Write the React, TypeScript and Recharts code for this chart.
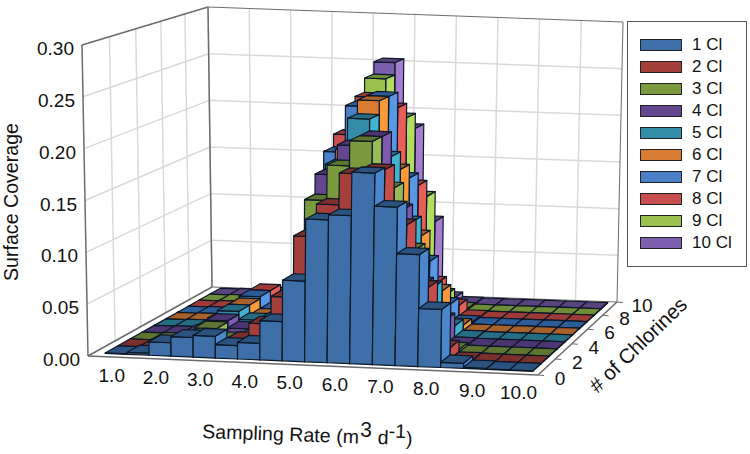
import { Scatter, ScatterChart, XAxis, YAxis } from "recharts";

const WIDTH = 750;
const HEIGHT = 454;

const rates = ["1.0", "1.5", "2.0", "2.5", "3.0", "3.5", "4.0", "4.5", "5.0", "5.5", "6.0", "6.5", "7.0", "7.5", "8.0", "8.5", "9.0", "9.5", "10.0"];
const rateTicks = ["1.0", "2.0", "3.0", "4.0", "5.0", "6.0", "7.0", "8.0", "9.0", "10.0"];
const chlorineTicks = [0, 2, 4, 6, 8, 10];
const coverageTicks = [0, 0.05, 0.1, 0.15, 0.2, 0.25, 0.3];
const seriesNames = ["1 Cl", "2 Cl", "3 Cl", "4 Cl", "5 Cl", "6 Cl", "7 Cl", "8 Cl", "9 Cl", "10 Cl"];

const cl1 = [0.0005, 0.002, 0.013, 0.019, 0.021, 0.013, 0.016, 0.038, 0.078, 0.138, 0.143, 0.185, 0.153, 0.108, 0.056, 0.005, 0.001, 0.0005, 0.0005];
const cl2 = [0.0005, 0.001, 0.004, 0.012, 0.006, 0.012, 0.028, 0.055, 0.115, 0.147, 0.178, 0.183, 0.13, 0.07, 0.012, 0.001, 0.0005, 0.0005, 0.0005];
const cl3 = [0.0005, 0.001, 0.003, 0.014, 0.004, 0.008, 0.02, 0.05, 0.145, 0.18, 0.205, 0.16, 0.1, 0.04, 0.003, 0.0005, 0.0005, 0.0005, 0.0005];
const cl4 = [0.0005, 0.001, 0.003, 0.015, 0.008, 0.007, 0.02, 0.06, 0.165, 0.195, 0.205, 0.133, 0.06, 0.025, 0.001, 0.0005, 0.0005, 0.0005, 0.0005];
const cl5 = [0.0005, 0.001, 0.002, 0.018, 0.01, 0.012, 0.022, 0.07, 0.17, 0.217, 0.18, 0.115, 0.05, 0.012, 0.001, 0.0005, 0.0005, 0.0005, 0.0005];
const cl6 = [0.0005, 0.001, 0.003, 0.018, 0.008, 0.01, 0.025, 0.07, 0.18, 0.231, 0.162, 0.095, 0.04, 0.006, 0.0005, 0.0005, 0.0005, 0.0005, 0.0005];
const cl7 = [0.0005, 0.001, 0.003, 0.02, 0.008, 0.012, 0.04, 0.172, 0.22, 0.231, 0.148, 0.063, 0.02, 0.002, 0.0005, 0.0005, 0.0005, 0.0005, 0.0005];
const cl8 = [0.0005, 0.001, 0.002, 0.02, 0.006, 0.01, 0.05, 0.185, 0.225, 0.215, 0.135, 0.035, 0.012, 0.001, 0.0005, 0.0005, 0.0005, 0.0005, 0.0005];
const cl9 = [0.0005, 0.001, 0.002, 0.006, 0.004, 0.008, 0.04, 0.16, 0.24, 0.2, 0.118, 0.016, 0.002, 0.0005, 0.0005, 0.0005, 0.0005, 0.0005, 0.0005];
const cl10 = [0.0005, 0.001, 0.002, 0.004, 0.003, 0.006, 0.03, 0.14, 0.253, 0.184, 0.086, 0.006, 0.001, 0.0005, 0.0005, 0.0005, 0.0005, 0.0005, 0.0005];
const coverage = [cl1, cl2, cl3, cl4, cl5, cl6, cl7, cl8, cl9, cl10];

const frontColors = ["#3e6fa8", "#a53f3c", "#7b9a3e", "#64468e", "#338ca8", "#d87c33", "#4a80c8", "#c94f4f", "#9ac14f", "#7d5fb0"];
const sideColors = ["#4c86cc", "#c64d49", "#97bb58", "#7f59b0", "#43b2cf", "#f99a3a", "#5797e4", "#e85f5a", "#b4dc5f", "#a57ed0"];
const topColors = ["#2c527f", "#7b3029", "#5e7530", "#4c3570", "#266c82", "#a8612a", "#2d5d99", "#a03a38", "#6f8c36", "#5a4480"];

// camera: where the box corners land on the page (front-left, front-right, back-right, back-left)
const floorCorners = [[88, 356], [538, 375], [617, 302], [212, 287]];
const ceilCorners = [[82, 45], [544, 62], [623, 22], [208, 7]];
const Z_MAX = 0.3;
const BAR_S = [0.027, 0.981];
const BAR_T = [0.04, 0.98];

function homography(c: number[][]) {
  const [[x0, y0], [x1, y1], [x2, y2], [x3, y3]] = c;
  const dx1 = x1 - x2, dx2 = x3 - x2, sx = x0 - x1 + x2 - x3;
  const dy1 = y1 - y2, dy2 = y3 - y2, sy = y0 - y1 + y2 - y3;
  const det = dx1 * dy2 - dx2 * dy1;
  const g = (sx * dy2 - dx2 * sy) / det;
  const h = (dx1 * sy - sx * dy1) / det;
  return (s: number, t: number) => {
    const w = g * s + h * t + 1;
    return [
      ((x1 - x0 + g * x1) * s + (x3 - x0 + h * x3) * t + x0) / w,
      ((y1 - y0 + g * y1) * s + (y3 - y0 + h * y3) * t + y0) / w,
    ];
  };
}
const floorAt = homography(floorCorners);
const ceilAt = homography(ceilCorners);

function project(s: number, t: number, z: number) {
  const a = floorAt(s, t);
  const b = ceilAt(s, t);
  const k = z / Z_MAX;
  return [a[0] + (b[0] - a[0]) * k, a[1] + (b[1] - a[1]) * k];
}
const colS = (u: number) => BAR_S[0] + ((BAR_S[1] - BAR_S[0]) * u) / rates.length;
const rowT = (v: number) => BAR_T[0] + ((BAR_T[1] - BAR_T[0]) * v) / seriesNames.length;
const pts = (list: number[][]) => list.map((p) => p.join(",")).join(" ");

function Prism(props: any) {
  const { cx, cy, payload } = props;
  const { col, row, value } = payload;
  const s0 = colS(col), s1 = colS(col + 1), t0 = rowT(row), t1 = rowT(row + 1);
  const anchor = project(s0, t0, 0);
  const at = (s: number, t: number, z: number) => {
    const p = project(s, t, z);
    return [p[0] - anchor[0] + cx, p[1] - anchor[1] + cy];
  };
  const stroke = { stroke: "#0c1725", strokeWidth: 1.2, strokeLinejoin: "round" as const };
  return (
    <g>
      <polygon points={pts([at(s1, t0, 0), at(s1, t1, 0), at(s1, t1, value), at(s1, t0, value)])} fill={sideColors[row]} {...stroke} />
      <polygon points={pts([at(s0, t0, 0), at(s1, t0, 0), at(s1, t0, value), at(s0, t0, value)])} fill={frontColors[row]} {...stroke} />
      <polygon points={pts([at(s0, t0, value), at(s1, t0, value), at(s1, t1, value), at(s0, t1, value)])} fill={topColors[row]} {...stroke} />
    </g>
  );
}

function barRow(row: number) {
  return coverage[row].map((value, col) => {
    const p = project(colS(col), rowT(row), 0);
    return { px: p[0], py: p[1], col, row, value };
  });
}

// walls, floor and grid lines as one list of segments
function seg(a: number[], b: number[], color: string, width: number) {
  return { px: a[0], py: a[1], dx: b[0] - a[0], dy: b[1] - a[1], color, width };
}
const GRID = "#d9d9d9";
const EDGE = "#6b6b6b";
const gridSegments: any[] = [];
for (let i = 1; i < rateTicks.length; i++) {
  gridSegments.push(seg(project(i / 10, 1, 0), project(i / 10, 1, Z_MAX), GRID, 1.5));
}
for (let i = 1; i < chlorineTicks.length; i++) {
  gridSegments.push(seg(project(0, i / 5, 0), project(0, i / 5, Z_MAX), GRID, 1.5));
}
coverageTicks.slice(1, -1).forEach((z) => {
  gridSegments.push(seg(project(0, 0, z), project(0, 1, z), GRID, 1.5));
  gridSegments.push(seg(project(0, 1, z), project(1, 1, z), GRID, 1.5));
});
gridSegments.push(seg(project(0, 0, 0), project(0, 0, Z_MAX), EDGE, 1.5));
gridSegments.push(seg(project(0, 1, 0), project(0, 1, Z_MAX), EDGE, 1.5));
gridSegments.push(seg(project(0, 0, Z_MAX), project(0, 1, Z_MAX), EDGE, 1.5));
gridSegments.push(seg(project(0, 1, Z_MAX), project(1, 1, Z_MAX), EDGE, 1));
gridSegments.push(seg(project(1, 1, 0), project(1, 1, Z_MAX), EDGE, 1));
gridSegments.push(seg(project(0, 0, 0), project(1, 0, 0), EDGE, 1.5));
gridSegments.push(seg(project(1, 0, 0), project(1, 1, 0), EDGE, 1.5));
gridSegments.push(seg(project(0, 0, 0), project(0, 1, 0), EDGE, 1.5));
gridSegments.push(seg(project(0, 1, 0), project(1, 1, 0), EDGE, 1));
chlorineTicks.forEach((_, i) => {
  const p = project(1, i / 5, 0);
  gridSegments.push(seg(p, [p[0] + 6, p[1] + 0.5], EDGE, 1));
});

function Segment(props: any) {
  const { cx, cy, payload } = props;
  return <line x1={cx} y1={cy} x2={cx + payload.dx} y2={cy + payload.dy} stroke={payload.color} strokeWidth={payload.width} />;
}

const FONT = "'Liberation Sans', Arial, sans-serif";
const tickLabels: any[] = [
  ...coverageTicks.map((z) => {
    const p = project(0, 0, z);
    return { px: p[0] - 8, py: p[1] + 10, text: z.toFixed(2), anchor: "end" };
  }),
  ...rateTicks.map((text, i) => {
    const p = project(colS(i * 2 + 0.5), 0, 0);
    return { px: p[0] + 1, py: p[1] + 25, text, anchor: "middle" };
  }),
  ...chlorineTicks.map((c, i) => {
    const p = project(1, i / 5, 0);
    return { px: p[0] + (c === 10 ? 25 : 22), py: p[1] + 10, text: String(c), anchor: "middle" };
  }),
];

function TickLabel(props: any) {
  const { cx, cy, payload } = props;
  return (
    <text x={cx} y={cy} textAnchor={payload.anchor} fontFamily={FONT} fontSize={19} fill="#111">
      {payload.text}
    </text>
  );
}

function AxisTitles(props: any) {
  const { cx, cy } = props;
  const text = { fontFamily: FONT, fill: "#111" };
  return (
    <g>
      <text x={cx + 18} y={cy + 202} textAnchor="middle" fontSize={19.6} transform={`rotate(-90 ${cx + 18} ${cy + 202})`} {...text}>
        Surface Coverage
      </text>
      <text x={cx + 202} y={cy + 438} fontSize={19.6} transform={`rotate(2 ${cx + 202} ${cy + 438})`} {...text}>
        Sampling Rate (m
        <tspan dy={-7} dx={1} fontSize={21}>3</tspan>
        <tspan dy={7} dx={6}>d</tspan>
        <tspan dy={-7}>-1</tspan>
        <tspan dy={7}>)</tspan>
      </text>
      <text x={cx + 643} y={cy + 350} textAnchor="middle" fontSize={20.5} transform={`rotate(-44 ${cx + 643} ${cy + 350})`} {...text}>
        # of Chlorines
      </text>
    </g>
  );
}

function LegendBox() {
  return (
    <div
      style={{
        position: "absolute",
        left: 627,
        top: 21,
        boxSizing: "border-box",
        width: 120,
        height: 246,
        border: "1.5px solid #555",
        background: "#fff",
        padding: "12px 0 0 12px",
        fontFamily: FONT,
        fontSize: 17,
        color: "#111",
      }}
    >
      {seriesNames.map((name, i) => (
        <div key={name} style={{ display: "flex", alignItems: "center", height: 22 }}>
          <span style={{ boxSizing: "border-box", width: 42, height: 12, background: frontColors[i], border: "1.5px solid #222" }} />
          <span style={{ marginLeft: 10 }}>{name}</span>
        </div>
      ))}
    </div>
  );
}

const rowOrder = [9, 8, 7, 6, 5, 4, 3, 2, 1, 0];

export default function App() {
  return (
    <div style={{ position: "absolute", left: 0, top: 0, width: WIDTH, height: HEIGHT }}>
      <ScatterChart width={WIDTH} height={HEIGHT} margin={{ top: 0, right: 0, bottom: 0, left: 0 }}>
        <XAxis type="number" dataKey="px" domain={[0, WIDTH]} hide />
        <YAxis type="number" dataKey="py" domain={[0, HEIGHT]} reversed hide />
        <Scatter data={gridSegments} shape={<Segment />} isAnimationActive={false} legendType="none" />
        {rowOrder.map((row) => (
          <Scatter key={row} name={seriesNames[row]} data={barRow(row)} shape={<Prism />} isAnimationActive={false} />
        ))}
        <Scatter data={tickLabels} shape={<TickLabel />} isAnimationActive={false} legendType="none" />
        <Scatter data={[{ px: 0, py: 0 }]} shape={<AxisTitles />} isAnimationActive={false} legendType="none" />
      </ScatterChart>
      <LegendBox />
    </div>
  );
}
